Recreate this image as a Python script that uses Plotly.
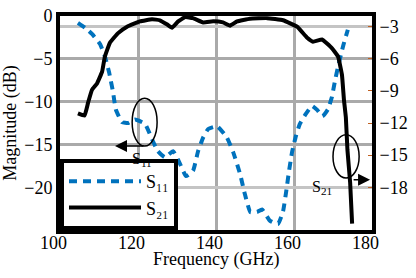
import plotly.graph_objects as go

# S11 (left axis, dB)
s11_freq = [104.6, 106.5, 108.2, 110.3, 111.5, 112.6, 113.6, 114.3, 115.9, 117.5,
            119.2, 121.8, 123.6, 125.1, 126.9, 129.0, 130.8, 132.3, 134.1, 135.4,
            136.7, 138.0, 140.3, 142.8, 144.4, 146.2, 147.4, 148.8, 150.5, 151.8,
            153.8, 155.9, 157.2, 158.0, 158.7, 159.5, 160.5, 161.5, 162.8, 164.6,
            166.0, 167.3, 168.7, 169.7, 170.5, 171.3, 172.6, 173.8]
s11_db = [-0.8, -1.4, -2.1, -3.3, -4.7, -6.6, -8.9, -10.9, -12.4, -12.5,
          -12.1, -12.6, -14.4, -15.8, -16.5, -15.8, -17.3, -18.7, -18.1, -15.8,
          -14.2, -13.2, -12.9, -14.2, -15.9, -18.5, -20.8, -22.9, -22.9, -22.6,
          -23.9, -24.3, -22.8, -20.5, -18.2, -15.9, -14.0, -12.6, -11.6, -10.5,
          -11.0, -11.7, -10.9, -9.5, -7.6, -5.9, -3.5, -1.6]

# S21 (right axis, dB)
s21_freq = [104.6, 106.3, 107.2, 108.2, 109.5, 110.8, 111.5, 112.8, 114.9, 117.2,
            120.5, 123.6, 125.6, 127.5, 128.7, 130.3, 132.1, 134.1, 136.7, 139.3,
            141.8, 143.6, 145.4, 148.7, 153.1, 157.2, 160.8, 163.3, 164.9, 167.2,
            169.7, 171.3, 172.3, 172.8, 173.3, 173.7, 174.4, 174.9]
s21_db = [-11.1, -11.3, -10.1, -8.9, -8.3, -7.2, -5.8, -4.5, -3.6, -3.0,
          -2.5, -2.3, -2.4, -2.8, -3.1, -2.5, -2.1, -2.2, -2.6, -2.5,
          -2.6, -2.9, -2.5, -2.25, -2.2, -2.4, -3.0, -4.0, -4.4, -4.2,
          -5.0, -5.8, -7.5, -9.8, -11.5, -14.5, -17.6, -21.4]

x_ticks = [100, 120, 140, 160, 180]
left_ticks = [0, -5, -10, -15, -20]
right_ticks = [-3, -6, -9, -12, -15, -18]
left_grid = [-5, -10, -15]
right_grid = [-3, -18]

FONT = "Liberation Serif"
BLUE = "#0072BD"

def f(size):
    return dict(family=FONT, size=size, color="black")

fig = go.Figure()
# empty helper traces so the grid-only axes get drawn
fig.add_trace(go.Scatter(x=[], y=[], yaxis="y3", showlegend=False, hoverinfo="skip"))
fig.add_trace(go.Scatter(x=[], y=[], yaxis="y4", showlegend=False, hoverinfo="skip"))
fig.add_trace(go.Scatter(x=s11_freq, y=s11_db, mode="lines", name="S\u2081\u2081",
                         line=dict(color=BLUE, width=4, dash="8px,6px", shape="spline", smoothing=0.4),
                         yaxis="y"))
fig.add_trace(go.Scatter(x=s21_freq, y=s21_db, mode="lines", name="S\u2082\u2081",
                         line=dict(color="black", width=4, shape="spline", smoothing=0.3),
                         yaxis="y2"))

fig.update_layout(
    width=416, height=278,
    margin=dict(l=60, r=44, t=16, b=48),
    paper_bgcolor="white", plot_bgcolor="white",
    font=f(18),
    showlegend=True,
    legend=dict(x=0, y=0, xanchor="left", yanchor="bottom",
                bgcolor="white", bordercolor="black", borderwidth=4,
                itemwidth=72, font=f(18), tracegroupgap=0),
    xaxis=dict(range=[100, 180], tickvals=x_ticks, ticks="", automargin=False,
               showline=True, linecolor="black", linewidth=4, mirror=True,
               showgrid=True, gridcolor="#aaaaaa", gridwidth=3,
               zeroline=False, showticklabels=False),
    yaxis=dict(range=[-25, 0], tickvals=left_ticks, ticks="", automargin=False,
               showline=True, linecolor="black", linewidth=4, mirror=True,
               showgrid=False, zeroline=False,
               title=dict(text="Magnitude (dB)", standoff=6, font=f(18)),
               tickfont=f(18)),
    yaxis2=dict(range=[-22, -2], tickvals=right_ticks, overlaying="y", side="right",
                ticks="inside", ticklen=4, tickcolor="#c06020", automargin=False,
                showgrid=False, zeroline=False, showline=True, linecolor="black", linewidth=4,
                tickfont=f(18)),
    yaxis3=dict(range=[-22, -2], tickvals=right_grid, overlaying="y", side="right", automargin=False,
                showticklabels=False, ticks="", showgrid=True, gridcolor="#c4c4c4", gridwidth=2.5,
                zeroline=False, showline=False),
    yaxis4=dict(range=[-25, 0], tickvals=left_grid, overlaying="y", side="left", automargin=False,
                showticklabels=False, ticks="", showgrid=True, gridcolor="#aaaaaa", gridwidth=3,
                zeroline=False, showline=False),
)

# x tick labels and title as text
for t in x_ticks:
    fig.add_annotation(x=t, y=0, xref="x", yref="paper", text=str(t), showarrow=False,
                       yanchor="top", xanchor="center", xshift=-7, yshift=-2, borderpad=0, font=f(18))
fig.add_annotation(x=0.5, y=0, xref="paper", yref="paper", text="Frequency (GHz)", showarrow=False,
                   yanchor="top", xanchor="center", yshift=-18, borderpad=0, font=f(18))

# ellipses
fig.add_shape(type="circle", xref="x", yref="y", x0=118.5, x1=124.9, y0=-15.2, y1=-9.6,
              line=dict(color="black", width=1.5))
fig.add_shape(type="circle", xref="x", yref="y2", x0=170.0, x1=176.7, y0=-17.15, y1=-13.1,
              line=dict(color="black", width=1.5))

# arrows
fig.add_annotation(x=114.1, y=-15.2, ax=121.8, ay=-15.2, xref="x", yref="y", axref="x", ayref="y",
                   showarrow=True, arrowhead=2, arrowsize=1.6, arrowwidth=1.5, arrowcolor="black", text="")
fig.add_annotation(x=179.5, y=-17.3, ax=174.9, ay=-17.3, xref="x", yref="y2", axref="x", ayref="y2",
                   showarrow=True, arrowhead=2, arrowsize=1.6, arrowwidth=1.5, arrowcolor="black", text="")
fig.add_annotation(x=121.0, y=-16.8, xref="x", yref="y", text="S<sub>11</sub>", showarrow=False,
                   font=f(16))
fig.add_annotation(x=167.2, y=-18.0, xref="x", yref="y2", text="S<sub>21</sub>", showarrow=False,
                   font=f(16))

fig.write_html("out.html", config={"displayModeBar": False},
               post_script="document.body.style.margin='0';document.body.style.overflow='hidden';")
